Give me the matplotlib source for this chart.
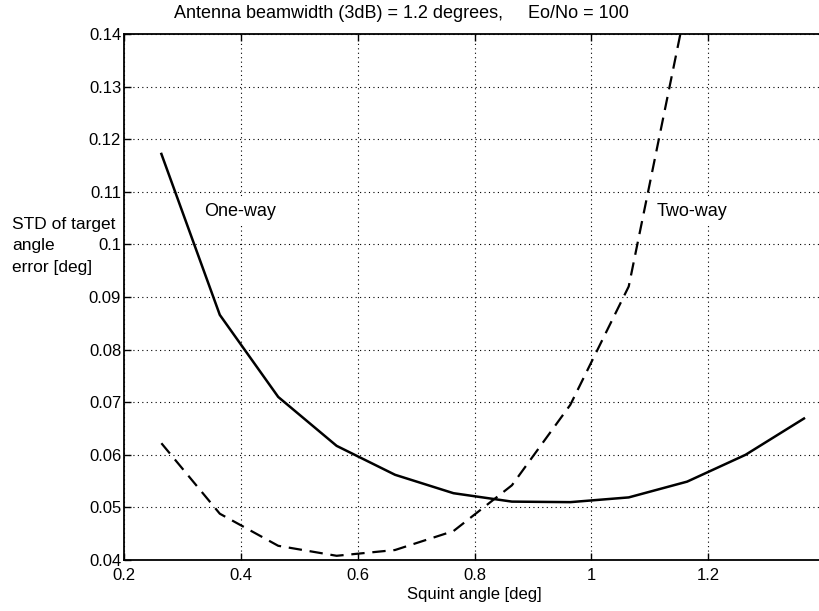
import matplotlib
matplotlib.use("Agg")
import matplotlib.pyplot as plt

squint_one = [0.264, 0.364, 0.464, 0.564, 0.664, 0.764, 0.864, 0.964, 1.064, 1.164, 1.264, 1.364]
std_one = [0.1172, 0.0866, 0.0710, 0.0617, 0.0562, 0.0527, 0.0511, 0.0510, 0.0519, 0.0549, 0.0600, 0.0669]

squint_two = [0.264, 0.364, 0.464, 0.564, 0.664, 0.764, 0.864, 0.964, 1.064, 1.164]
std_two = [0.0622, 0.0488, 0.0427, 0.0408, 0.0419, 0.0455, 0.0542, 0.0695, 0.0920, 0.1463]

xticks = [0.2, 0.4, 0.6, 0.8, 1.0, 1.2]
xticklabels = ["0.2", "0.4", "0.6", "0.8", "1", "1.2"]
yticks = [0.04, 0.05, 0.06, 0.07, 0.08, 0.09, 0.10, 0.11, 0.12, 0.13, 0.14]
yticklabels = ["0.04", "0.05", "0.06", "0.07", "0.08", "0.09", "0.1", "0.11", "0.12", "0.13", "0.14"]

plt.rcParams['font.family'] = ['Liberation Sans', 'DejaVu Sans']

W, H = 820, 611
fig = plt.figure(figsize=(W / 100, H / 100), dpi=100)
ax = fig.add_axes([124 / W, (H - 560) / H, 701 / W, 526 / H])

ax.plot(squint_one, std_one, color='black', lw=1.8, solid_joinstyle='miter')
ax.plot(squint_two, std_two, color='black', lw=1.6, linestyle=(0, (6, 3.5)))

ax.set_xlim(0.2, 1.4)
ax.set_ylim(0.04, 0.14)
ax.set_xticks(xticks)
ax.set_xticklabels(xticklabels)
ax.set_yticks(yticks)
ax.set_yticklabels(yticklabels)
ax.tick_params(direction='in', length=5, width=1, labelsize=12, top=True)
ax.tick_params(axis='x', pad=6)
ax.tick_params(axis='y', pad=2)
ax.grid(True, color='black', linestyle=(0, (1, 3)), linewidth=0.8)
for s in ['left', 'bottom', 'top']:
    ax.spines[s].set_linewidth(1.3)
ax.spines['right'].set_visible(False)

ax.text(0.398, 0.1062, "One-way", fontsize=13, ha='center', va='center',
        bbox=dict(facecolor='white', edgecolor='none', pad=3))
ax.text(1.172, 0.1063, "Two-way", fontsize=13, ha='center', va='center',
        bbox=dict(facecolor='white', edgecolor='none', pad=3))

ax.set_xlabel("Squint angle [deg]", fontsize=12, labelpad=3)
ylab_lines = ["STD of target", "angle", "error [deg]"]
for i, (line, yc) in enumerate(zip(ylab_lines, [224, 246, 267])):
    fig.text(12 / W, 1 - yc / H, line, fontsize=12.5, ha='left', va='center')
fig.text(401 / W, 1 - 13 / H, "Antenna beamwidth (3dB) = 1.2 degrees,     Eo/No = 100",
         fontsize=13, ha='center', va='center')

fig.savefig("out.png", dpi=100)
